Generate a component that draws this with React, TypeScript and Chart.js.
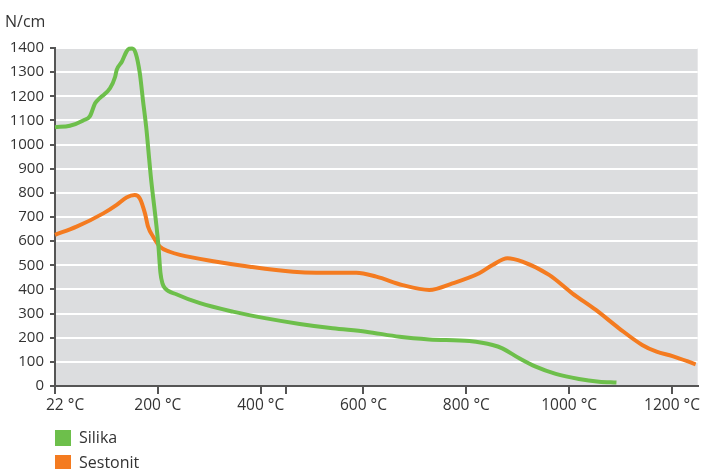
import React, { useEffect, useRef } from "react";
import { Chart, registerables } from "chart.js";

Chart.register(...registerables);

const xTickValues = [0, 200, 400, 450, 600, 800, 1000, 1200];
const xTickLabels = ["\u00a0\u00a0\u00a0\u00a0\u00a022 °C", "200 °C", "400 °C", "", "600 °C", "800 °C", "1000 °C", "1200 °C"];
const yUnit = "N/cm";

const silikaX = [0, 29, 55, 68, 78, 87, 107, 117, 120, 130, 139, 144, 150, 157, 165, 171, 178, 181, 186, 201, 205, 209, 214, 236, 282, 346, 411, 476, 540, 605, 670, 728, 806, 851, 870, 903, 935, 974, 1019, 1058, 1092];
const silikaY = [1072, 1078, 1100, 1118, 1171, 1192, 1233, 1281, 1309, 1343, 1385, 1397, 1398, 1378, 1295, 1185, 1060, 991, 875, 584, 470, 425, 405, 380, 343, 308, 280, 257, 239, 225, 204, 193, 186, 170, 156, 115, 80, 50, 29, 18, 14];

const sestonitX = [0, 42, 94, 120, 139, 155, 165, 175, 181, 191, 204, 223, 243, 314, 379, 463, 508, 586, 625, 676, 728, 773, 825, 851, 880, 909, 961, 1006, 1052, 1097, 1142, 1170, 1201, 1246];
const sestonitY = [626, 660, 715, 750, 781, 791, 777, 715, 660, 618, 577, 556, 543, 515, 494, 473, 469, 469, 453, 418, 398, 425, 467, 501, 529, 515, 460, 384, 315, 239, 170, 142, 124, 90];

const seriesNames = ["Silika", "Sestonit"];
const seriesColors = ["#6dbf4b", "#f47b20"];

const FONT = "'Open Sans', sans-serif";
const TEXT = "#333333";

export default function App() {
  const ref = useRef<HTMLCanvasElement | null>(null);

  useEffect(() => {
    if (!ref.current) return;
    const toPts = (xs: number[], ys: number[]) => xs.map((x, i) => ({ x, y: ys[i] }));

    const deco = {
      id: "deco",
      beforeDraw(chart: any) {
        const { ctx, chartArea } = chart;
        ctx.save();
        ctx.fillStyle = "#dcdddf";
        ctx.fillRect(chartArea.left, chartArea.top, chartArea.right - chartArea.left, chartArea.bottom - chartArea.top);
        ctx.restore();
      },
      afterDraw(chart: any) {
        const { ctx } = chart;
        ctx.save();
        ctx.font = `16px ${FONT}`;
        ctx.fillStyle = TEXT;
        ctx.textBaseline = "middle";
        ctx.textAlign = "left";
        ctx.fillText(yUnit, 5, 22);
        const rows = [438, 463];
        seriesNames.forEach((n, i) => {
          ctx.fillStyle = seriesColors[i];
          ctx.fillRect(55, rows[i] - 8, 16, 16);
          ctx.fillStyle = TEXT;
          ctx.fillText(n, 79, rows[i]);
        });
        ctx.restore();
      },
    };

    const chart = new Chart(ref.current, {
      type: "line",
      data: {
        datasets: [
          {
            label: seriesNames[0],
            data: toPts(silikaX, silikaY),
            borderColor: seriesColors[0],
            borderWidth: 4,
            pointRadius: 0,
            cubicInterpolationMode: "monotone",
            fill: false,
            clip: false,
          },
          {
            label: seriesNames[1],
            data: toPts(sestonitX, sestonitY),
            borderColor: seriesColors[1],
            borderWidth: 4,
            pointRadius: 0,
            cubicInterpolationMode: "monotone",
            fill: false,
            clip: false,
          },
        ],
      },
      options: {
        animation: false,
        responsive: false,
        devicePixelRatio: 1,
        layout: { padding: { top: 48, left: 0, right: 2, bottom: 0 } },
        plugins: { legend: { display: false }, tooltip: { enabled: false } },
        scales: {
          x: {
            type: "linear",
            min: 0,
            max: 1250,
            afterBuildTicks: (scale: any) => {
              scale.ticks = xTickValues.map((v) => ({ value: v }));
            },
            afterFit: (scale: any) => {
              scale.height = 83;
            },
            ticks: {
              autoSkip: false,
              maxRotation: 0,
              padding: 2,
              color: TEXT,
              font: { family: FONT, size: 15.5 },
              callback: (v: any) => {
                const i = xTickValues.indexOf(Number(v));
                return i >= 0 ? xTickLabels[i] : "";
              },
            },
            grid: {
              drawOnChartArea: false,
              tickLength: 8,
              tickColor: "#555555",
              lineWidth: 2,
            },
            border: { color: "#555555", width: 2 },
          },
          y: {
            min: 0,
            max: 1400,
            afterFit: (scale: any) => {
              scale.width = 55;
            },
            ticks: {
              stepSize: 100,
              padding: 6,
              color: TEXT,
              font: { family: FONT, size: 15 },
              callback: (v: any) => String(v),
            },
            grid: {
              color: "#ffffff",
              lineWidth: 2,
              tickColor: "#555555",
              tickLength: 5,
            },
            border: { color: "#555555", width: 2 },
          },
        },
      },
      plugins: [deco],
    });
    return () => chart.destroy();
  }, []);

  return (
    <div style={{ position: "absolute", left: 0, top: 0, width: 702, height: 469, background: "#fff" }}>
      <canvas ref={ref} width={702} height={469} />
    </div>
  );
}
